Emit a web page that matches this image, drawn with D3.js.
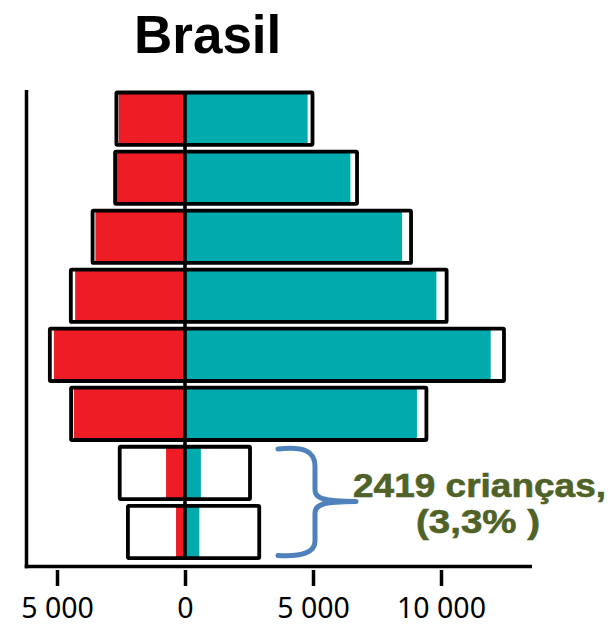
<!DOCTYPE html>
<html>
<head>
<meta charset="utf-8">
<script src="https://cdn.jsdelivr.net/npm/d3@7"></script>
<style>
  html, body { margin: 0; padding: 0; background: #fff; }
  svg { display: block; }
</style>
</head>
<body>
<svg id="chart" width="614" height="625"></svg>
<script>
// ---- data ----
const rows      = ["g1", "g2", "g3", "g4", "g5", "g6", "g7", "g8"];
const leftBox   = [2680, 2730, 3610, 4460, 5280, 4450, 2550, 2230];
const rightBox  = [4980, 6720, 8830, 10220, 12460, 9430, 2540, 2900];
const redBar    = [2590, 2670, 3500, 4290, 5120, 4340, 740, 350];
const tealBar   = [4790, 6460, 8480, 9820, 11940, 9060, 620, 560];
const tickValues = [-5000, 0, 5000, 10000];
const tickLabels = ["5 000", "0", "5 000", "10 000"];
const title = "Brasil";
const noteLine1 = "2419 crianças,";
const noteLine2 = "(3,3% )";

const RED = "#ee1d25", TEAL = "#00aaad", BLUE = "#4f81bd", OLIVE = "#4f6228";

const svg = d3.select("#chart");

const x = d3.scaleLinear().domain([-5000, 10000]).range([57, 441]);
const y = d3.scaleBand().domain(rows).range([92.5, 558.1]).paddingInner(0.114).paddingOuter(0);

const data = rows.map((r, i) => ({
  r, lb: leftBox[i], rb: rightBox[i], red: redBar[i], teal: tealBar[i]
}));

// title
svg.append("text")
  .attr("x", 134).attr("y", 53.3)
  .attr("font-family", "'Liberation Sans', Arial, sans-serif")
  .attr("font-weight", "bold")
  .attr("font-size", 53)
  .attr("fill", "#000")
  .text(title);

// axes lines
const axisY = 566.5;
svg.append("line")
  .attr("x1", 26.5).attr("x2", 26.5).attr("y1", 90).attr("y2", axisY + 1.75)
  .attr("stroke", "#000").attr("stroke-width", 3.5);
svg.append("line")
  .attr("x1", 24.75).attr("x2", 532).attr("y1", axisY).attr("y2", axisY)
  .attr("stroke", "#000").attr("stroke-width", 3.5);

const gx = svg.append("g").attr("transform", `translate(0,${axisY})`)
  .call(d3.axisBottom(x).tickValues(tickValues).tickSize(0)
    .tickFormat((d, i) => tickLabels[i]));
gx.select(".domain").remove();
gx.selectAll(".tick").append("line")
  .attr("x1", 0).attr("x2", 0).attr("y1", 3.5).attr("y2", 19.5)
  .attr("stroke", "#000").attr("stroke-width", 3.5);
gx.selectAll(".tick text")
  .attr("y", 51).attr("dy", 0)
  .attr("font-family", "'Noto Sans', 'Open Sans', sans-serif")
  .attr("font-size", 28.5)
  .attr("fill", "#000");

// bars
const rowsG = svg.append("g");
const rowG = rowsG.selectAll("g.row").data(data).join("g").attr("class", "row");

rowG.append("rect")
  .attr("x", d => x(-d.lb)).attr("y", d => y(d.r))
  .attr("width", d => x(d.rb) - x(-d.lb)).attr("height", y.bandwidth())
  .attr("fill", "#fff");
rowG.append("rect")
  .attr("x", d => x(-d.red)).attr("y", d => y(d.r))
  .attr("width", d => x(0) - x(-d.red)).attr("height", y.bandwidth())
  .attr("fill", RED);
rowG.append("rect")
  .attr("x", x(0)).attr("y", d => y(d.r))
  .attr("width", d => x(d.teal) - x(0)).attr("height", y.bandwidth())
  .attr("fill", TEAL);
rowG.append("rect")
  .attr("x", d => x(-d.lb)).attr("y", d => y(d.r))
  .attr("width", d => x(d.rb) - x(-d.lb)).attr("height", y.bandwidth())
  .attr("fill", "none").attr("stroke", "#000").attr("stroke-width", 3.8)
  .attr("rx", 1);

// zero line
svg.append("line")
  .attr("x1", x(0)).attr("x2", x(0))
  .attr("y1", y(rows[0])).attr("y2", y(rows[rows.length - 1]) + y.bandwidth() + 2)
  .attr("stroke", "#000").attr("stroke-width", 3.6);

// bracket
svg.append("path")
  .attr("d", "M278,449 C303,446 315,451 315,466 L315,490 C315,498 322,501.5 356,501.5 " +
             "C322,501.5 315,505 315,513 L315,541 C315,552 303,557 278,555.5")
  .attr("fill", "none").attr("stroke", BLUE).attr("stroke-width", 5)
  .attr("stroke-linecap", "round").attr("stroke-linejoin", "round");

// annotation
svg.append("text")
  .attr("x", 353).attr("y", 496.7)
  .attr("font-family", "'Liberation Sans', Arial, sans-serif")
  .attr("font-weight", "bold").attr("font-size", 34)
  .attr("fill", OLIVE)
  .attr("stroke", OLIVE).attr("stroke-width", 0.6)
  .attr("textLength", 253).attr("lengthAdjust", "spacingAndGlyphs")
  .text(noteLine1);
svg.append("text")
  .attr("x", 416).attr("y", 532.7)
  .attr("font-family", "'Liberation Sans', Arial, sans-serif")
  .attr("font-weight", "bold").attr("font-size", 34)
  .attr("fill", OLIVE)
  .attr("stroke", OLIVE).attr("stroke-width", 0.6)
  .attr("textLength", 124).attr("lengthAdjust", "spacingAndGlyphs")
  .text(noteLine2);
</script>
</body>
</html>
